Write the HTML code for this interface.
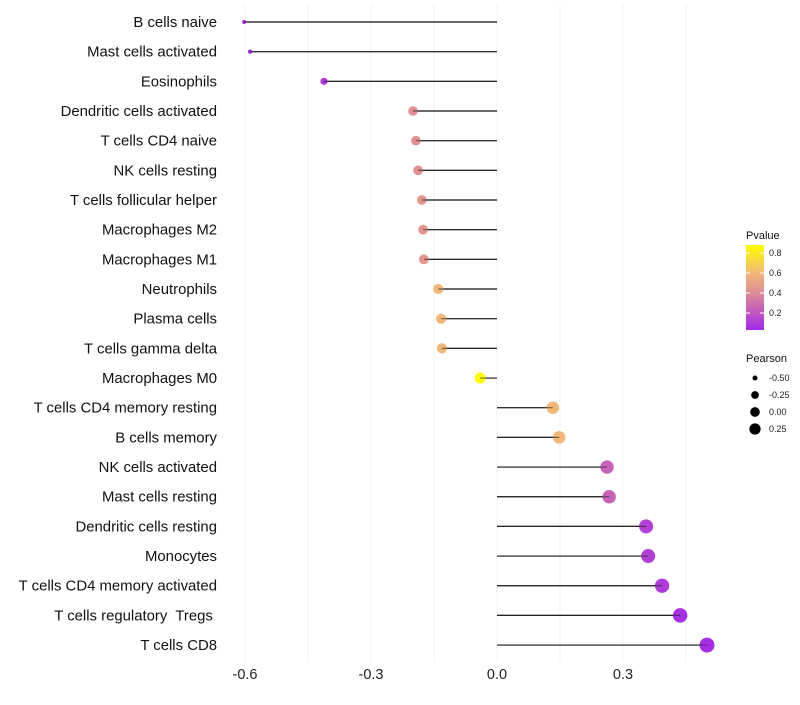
<!DOCTYPE html>
<html><head><meta charset="utf-8"><style>
body{margin:0;background:#fff;font-family:"Liberation Sans",sans-serif}
svg text{font-family:"Liberation Sans",sans-serif;white-space:pre}
</style></head><body>
<svg width="800" height="700" id="chart"></svg>
<script>
const categories=["B cells naive","Mast cells activated","Eosinophils","Dendritic cells activated","T cells CD4 naive","NK cells resting","T cells follicular helper","Macrophages M2","Macrophages M1","Neutrophils","Plasma cells","T cells gamma delta","Macrophages M0","T cells CD4 memory resting","B cells memory","NK cells activated","Mast cells resting","Dendritic cells resting","Monocytes","T cells CD4 memory activated","T cells regulatory  Tregs ","T cells CD8"];
const pearson=[-0.602,-0.588,-0.412,-0.2,-0.193,-0.188,-0.179,-0.176,-0.174,-0.14,-0.133,-0.131,-0.04,0.133,0.148,0.262,0.267,0.355,0.36,0.393,0.436,0.5];
const pvalues=[0.02,0.02,0.1,0.42,0.42,0.42,0.45,0.45,0.45,0.6,0.6,0.6,0.87,0.6,0.6,0.25,0.25,0.12,0.12,0.1,0.06,0.05];
const xTicks=[-0.6,-0.3,0.0,0.3];
const xTickLabels=["-0.6","-0.3","0.0","0.3"];
const pTicks=[0.2,0.4,0.6,0.8];
const sizeLegend=[-0.5,-0.25,0,0.25];

const NS="http://www.w3.org/2000/svg";
const svg=document.getElementById('chart');
function mk(t,a,p){const e=document.createElementNS(NS,t);for(const k in a)e.setAttribute(k,a[k]);(p||svg).appendChild(e);return e;}
const x=v=>497+(v)*420;
const y=i=>22+i*29.67;
const r=v=>Math.sqrt(4+(v+0.6)/1.1*52.25);
function lerp(a,b,t){return a.map((c,i)=>Math.round(c+(b[i]-c)*t));}
const stops=[[0,[160,32,240]],[0.4,[222,140,150]],[0.6,[240,184,120]],[0.88,[255,255,0]]];
function col(p){if(p<=stops[0][0])return 'rgb('+stops[0][1]+')';for(let i=1;i<stops.length;i++){if(p<=stops[i][0]){const t=(p-stops[i-1][0])/(stops[i][0]-stops[i-1][0]);return 'rgb('+lerp(stops[i-1][1],stops[i][1],t)+')';}}return 'rgb(255,255,0)';}

const grid=mk('g',{});


for(let v=-0.6;v<=0.51;v+=0.15){mk('line',{x1:x(v),x2:x(v),y1:5,y2:662,stroke:'#f2f2f2','stroke-width':1},grid);}
xTicks.forEach((v,i)=>{const t=mk('text',{x:x(v),y:679,'text-anchor':'middle','font-size':14.5,fill:'#222'});t.textContent=xTickLabels[i];

});
categories.forEach((c,i)=>{
 const t=mk('text',{x:217,y:y(i)+5,'text-anchor':'end','font-size':14.9,fill:'#111'});t.textContent=c;
 
 
 const l=mk('line',{x1:x(0),x2:x(pearson[i]),y1:y(i),y2:y(i),stroke:'#222','stroke-width':1.2});
 
 
 const c2=mk('circle',{cx:x(pearson[i]),cy:y(i),r:r(pearson[i]),fill:col(pvalues[i])});
 
 
 mk('line',{x1:x(0),x2:x(pearson[i]),y1:y(i),y2:y(i),stroke:'#222','stroke-width':1.2,'stroke-opacity':0.6});
});
const lg=mk('g',{});


const tt=mk('text',{x:746,y:239,'font-size':11,fill:'#111'},lg);tt.textContent='Pvalue';
const defs=mk('defs',{});const gr=mk('linearGradient',{id:'pg',x1:0,y1:1,x2:0,y2:0},defs);
const pb=330,pscale=100;
for(let p=0.03;p<=0.881;p+=0.05){mk('stop',{offset:((p-0.03)/0.85),'stop-color':col(p)},gr);}
mk('rect',{x:746,y:pb-85,width:18,height:85,fill:'url(#pg)'},lg);
pTicks.forEach(p=>{const yy=pb-(p-0.03)*pscale;mk('line',{x1:746,x2:750,y1:yy,y2:yy,stroke:'#fff'},lg);mk('line',{x1:760,x2:764,y1:yy,y2:yy,stroke:'#fff'},lg);
 const t=mk('text',{x:769,y:yy+3,'font-size':9,fill:'#222'},lg);t.textContent=p.toFixed(1);});
const sl=mk('g',{});


const st=mk('text',{x:746,y:362,'font-size':11,fill:'#111'},sl);st.textContent='Pearson';
sizeLegend.forEach((v,i)=>{const yy=378+i*17;mk('circle',{cx:755,cy:yy,r:r(v)*0.85,fill:'#000'},sl);
 const t=mk('text',{x:769,y:yy+3,'font-size':9,fill:'#222'},sl);t.textContent=v.toFixed(2);});
</script>
</body></html>
